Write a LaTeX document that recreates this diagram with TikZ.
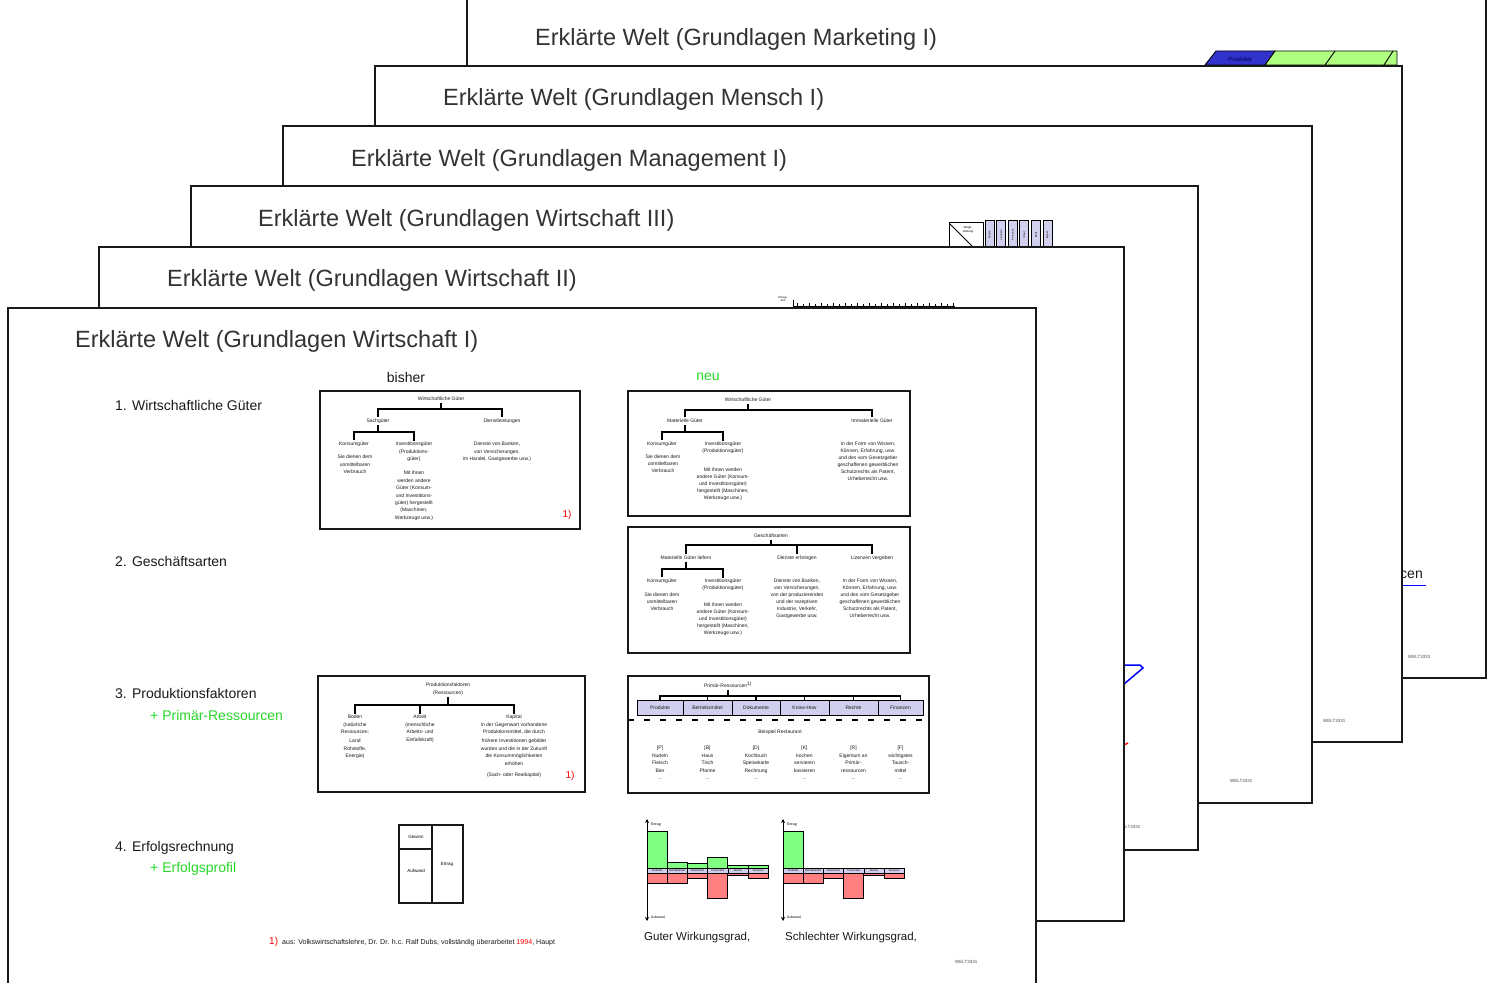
\documentclass[tikz,border=0pt]{standalone}
\usepackage{fontspec}
\setmainfont{Liberation Sans}
\usetikzlibrary{arrows.meta}

\definecolor{ink}{HTML}{1A1A1A}
\definecolor{neugreen}{RGB}{40,215,40}
\definecolor{barGreen}{RGB}{128,255,128}
\definecolor{barRed}{RGB}{255,128,128}
\definecolor{lav}{RGB}{208,208,238}
\definecolor{tabBlue}{RGB}{50,50,205}
\definecolor{tabGreen}{RGB}{176,255,128}

\tikzset{
  sheet/.style={draw=black!90, line width=1.4pt, fill=white},
  sheettitle/.style={anchor=west, inner sep=0, text=black!80, font=\fontsize{23.5}{28}\selectfont},
  sec/.style={anchor=west, inner sep=0, text=ink, font=\fontsize{14}{16}\selectfont},
  frame/.style={draw=black!90, line width=1.3pt},
  tree/.style={draw=black, line width=1.1pt},
  tl/.style={inner xsep=0, inner ysep=1.5pt, align=center, text=ink, font=\fontsize{5}{7.4}\selectfont},
  tlc/.style={tl, font=\fontsize{5}{7}\selectfont},
  fnref/.style={text=red, inner sep=0, font=\fontsize{10}{12}\selectfont},
  welt/.style={anchor=west, inner sep=0, text=black!70, font=\fontsize{4.5}{5}\selectfont},
  tab/.style={draw=black, line width=0.9pt, fill=lav, inner sep=0, minimum height=15pt, font=\fontsize{5}{6}\selectfont, text=ink},
  cell/.style={draw=black, line width=0.5pt, fill=lav, minimum width=20.2pt, minimum height=5pt, inner sep=0, font=\fontsize{2.6}{3}\selectfont},
  axis/.style={line width=0.9pt, {Stealth[length=4pt,width=4pt]}-{Stealth[length=4pt,width=4pt]}},
}

% org-chart fork: parent, left child, right child, y of the bar
\newcommand\fork[4]{%
  \draw[tree] (#1.south) -- (#1.south |- 0,#4);
  \draw[tree] (#2.north) |- (#3.north |- 0,#4) -- (#3.north);}
\newcommand\drop[2]{\draw[tree] (#1.north) -- (#1.north |- 0,#2);}

% profit profile: name prefix, x of the axis, cells (index/green top/red bottom/label)
\newcommand\erfprofil[3]{%
  \coordinate (#1top) at (#2,819);
  \coordinate (#1bot) at (#2,921);
  \draw[axis] (#1top) -- (#1bot);
  \node[anchor=west, inner sep=0, font=\fontsize{3.5}{4}\selectfont] (#1ert) at (#2+4,825) {Ertrag};
  \node[anchor=west, inner sep=0, font=\fontsize{3.5}{4}\selectfont] (#1auf) at (#2+4,917) {Aufwand};
  \foreach \i/\g/\r/\lab in {#3} {
    \draw[fill=barGreen, line width=0.8pt] (#2+\i*20.2, \g) rectangle (#2+\i*20.2+20.2, 868);
    \draw[fill=barRed, line width=0.8pt] (#2+\i*20.2, 873) rectangle (#2+\i*20.2+20.2, \r);
    \node[cell] (#1c\i) at (#2+\i*20.2+10.1, 870.5) {\lab};
  }}

\begin{document}
\begin{tikzpicture}[x=1pt,y=-1pt]
\useasboundingbox (0,0) rectangle (1487,982);

% ---------- sheet 6: Marketing ----------
\draw[sheet] (467,-3) rectangle (1486,678);
\node[sheettitle] (tMkt) at (535,39) {Erklärte Welt (Grundlagen Marketing I)};
\filldraw[fill=tabBlue, draw=black, line width=0.9pt] (1205,65) -- (1216,51) -- (1275,51) -- (1265,65) -- cycle;
\filldraw[fill=tabGreen, draw=black, line width=0.9pt] (1265,65) -- (1275,51) -- (1397,51) -- (1397,65) -- cycle;
\draw[line width=0.9pt] (1325,65) -- (1335,51) (1384,65) -- (1393,51);
\node[inner sep=0, text=black!70!blue, font=\itshape\fontsize{6}{7}\selectfont] (tabP) at (1240,59) {Produkte};
\node[anchor=east, inner sep=0, text=ink, font=\fontsize{14}{16}\selectfont] (mktHead) at (1423,573) {Primär-Ressourcen};
\draw[blue, line width=1pt] (1300,585) -- (1426,585);
\node[welt] (wMkt) at (1408,657) {WELT3331};

% ---------- sheet 5: Mensch ----------
\draw[sheet] (375,66) rectangle (1402,742);
\node[sheettitle] (tMen) at (443,99) {Erklärte Welt (Grundlagen Mensch I)};
\node[welt] (wMen) at (1323,721) {WELT3331};

% ---------- sheet 4: Management ----------
\draw[sheet] (283,126) rectangle (1312,803);
\node[sheettitle] (tMan) at (351,160) {Erklärte Welt (Grundlagen Management I)};
\node[welt] (wMan) at (1230,781) {WELT3331};

% ---------- sheet 3: Wirtschaft III ----------
\draw[sheet] (191,186) rectangle (1198,850);
\node[sheettitle] (tW3) at (258,220) {Erklärte Welt (Grundlagen Wirtschaft III)};
\draw[line width=0.9pt] (949,222) rectangle (983,250);
\draw[line width=0.9pt] (950,224) -- (976,250);
\node[inner sep=0, align=center, font=\fontsize{3}{3.5}\selectfont] (wege) at (968,230) {Wege-\\leistung};
\foreach \i/\w in {0/Kunde,1/Lieferant,2/Personal,3/Staat,4/Bank,5/Eigner} {
  \filldraw[fill=lav, draw=black, line width=0.8pt] (985+\i*11.6,220) rectangle (994+\i*11.6,250);
  \node[rotate=90, inner sep=0, font=\fontsize{2.6}{3}\selectfont] (col\i) at (989.5+\i*11.6,235) {\w};
}
\draw[blue, line width=1.5pt] (1100,665) -- (1140,665) -- (1143,668) -- (1124,684) -- (1110,696);
\draw[red, line width=1.5pt] (1110,752) -- (1128,743);
\node[welt] (wW3) at (1118,827) {WELT3331};

% ---------- sheet 2: Wirtschaft II ----------
\draw[sheet] (99,247) rectangle (1124,921);
\node[sheettitle] (tW2) at (167,280) {Erklärte Welt (Grundlagen Wirtschaft II)};
\node[inner sep=0, align=center, font=\fontsize{2.8}{3.2}\selectfont] (rulLab) at (783,299) {Ertrag-\\Zeit};
\draw[line width=1pt] (793,300) -- (793,306) -- (955,306);
\foreach \k in {0,...,26} {
  \pgfmathsetmacro\tk{mod(\k,2)==0 ? 3 : 2}
  \draw[line width=0.8pt] (797+\k*6,306) -- ++(0,-\tk);
}

% ---------- sheet 1: Wirtschaft I ----------
\draw[sheet] (8,308) rectangle (1036,995);
\node[sheettitle] (tW1) at (75,341) {Erklärte Welt (Grundlagen Wirtschaft I)};

\node[inner sep=0, text=ink, font=\fontsize{14}{16}\selectfont] (bisher) at (406,377) {bisher};
\node[inner sep=0, text=neugreen, font=\fontsize{14}{16}\selectfont] (neu) at (708,377) {neu};

\node[sec] (s1) at (115,405) {1. Wirtschaftliche Güter};
\node[sec] (s2) at (115,561) {2. Geschäftsarten};
\node[sec] (s3) at (115,693) {3. Produktionsfaktoren};
\node[sec, text=neugreen] (s3b) at (150,715) {+ Primär-Ressourcen};
\node[sec] (s4) at (115,848) {4. Erfolgsrechnung};
\node[sec, text=neugreen] (s4b) at (150,869) {+ Erfolgsprofil};

% --- economic goods, old version
\draw[frame] (320,391) rectangle (580,529);
\node[tl] (b0) at (441,399) {Wirtschaftliche Güter};
\node[tl] (b1) at (378,421) {Sachgüter};
\node[tl] (b2) at (502,421) {Dienstleistungen};
\fork{b0}{b1}{b2}{409}
\node[tl] (b11) at (354,444) {Konsumgüter};
\node[tl, anchor=north] (b12) at (414,440.5) {Investitionsgüter\\(Produktions-\\güter)};
\fork{b1}{b11}{b12}{432}
\node[tl, anchor=north] (b11d) at (355,453.5) {Sie dienen dem\\unmittelbaren\\Verbrauch};
\node[tl, anchor=north] (b12d) at (414,469.5) {Mit ihnen\\werden andere\\Güter (Konsum-\\und Investitions-\\güter) hergestellt\\(Maschinen,\\Werkzeuge usw.)};
\node[tl, anchor=north] (b2d) at (497,440.5) {Dienste von Banken,\\von Versicherungen,\\im Handel, Gastgewerbe usw.)};
\node[fnref] (r1a) at (567,515) {1)};

% --- economic goods, new version
\draw[frame] (628,391) rectangle (910,516);
\node[tl] (n0) at (748,400) {Wirtschaftliche Güter};
\node[tl] (n1) at (685,421) {Materielle Güter};
\node[tl] (n2) at (872,421) {Immaterielle Güter};
\fork{n0}{n1}{n2}{410}
\node[tl] (n11) at (662,444) {Konsumgüter};
\node[tlc, anchor=north] (n12) at (723,440.5) {Investitionsgüter\\(Produktionsgüter)};
\fork{n1}{n11}{n12}{432}
\node[tlc, anchor=north] (n11d) at (663,453.5) {Sie dienen dem\\unmittelbaren\\Verbrauch};
\node[tlc, anchor=north] (n12d) at (723,466) {Mit ihnen werden\\andere Güter (Konsum-\\und Investitionsgüter)\\hergestellt (Maschinen,\\Werkzeuge usw.)};
\node[tlc, anchor=north] (n2d) at (868,440.5) {In der Form von Wissen,\\Können, Erfahrung, usw.\\und des vom Gesetzgeber\\geschaffenen gewerblichen\\Schutzrechts als Patent,\\Urheberrecht usw.};

% --- kinds of business
\draw[frame] (628,527) rectangle (910,653);
\node[tl] (g0) at (771,536) {Geschäftsarten};
\node[tl] (g1) at (686,558) {Materielle Güter liefern};
\node[tl] (g2) at (797,558) {Dienste erbringen};
\node[tl] (g3) at (872,558) {Lizenzen vergeben};
\fork{g0}{g1}{g3}{545}
\drop{g2}{545}
\node[tl] (g11) at (662,581) {Konsumgüter};
\node[tlc, anchor=north] (g12) at (723,577.5) {Investitionsgüter\\(Produktionsgüter)};
\fork{g1}{g11}{g12}{569}
\node[tlc, anchor=north] (g11d) at (662,591.5) {Sie dienen dem\\unmittelbaren\\Verbrauch};
\node[tlc, anchor=north] (g12d) at (723,601.5) {Mit ihnen werden\\andere Güter (Konsum-\\und Investitionsgüter)\\hergestellt (Maschinen,\\Werkzeuge usw.)};
\node[tlc, anchor=north] (g2d) at (797,577.5) {Dienste von Banken,\\von Versicherungen,\\von der produzierenden\\und der rezeptiven\\Industrie, Verkehr,\\Gastgewerbe usw.};
\node[tlc, anchor=north] (g3d) at (870,577.5) {In der Form von Wissen,\\Können, Erfahrung, usw.\\und des vom Gesetzgeber\\geschaffenen gewerblichen\\Schutzrechts als Patent,\\Urheberrecht usw.};

% --- factors of production
\draw[frame] (318,676) rectangle (585,792);
\node[tl, anchor=north] (p0) at (448,681.5) {Produktionsfaktoren\\(Ressourcen)};
\node[tl, anchor=north] (p1) at (355,713.5) {Boden\\(natürliche\\Ressourcen:};
\node[tl, anchor=north] (p2) at (420,713.5) {Arbeit\\(menschliche\\Arbeits- und\\Einfallskraft)};
\node[tl, anchor=north] (p3) at (514,713.5) {Kapital\\in der Gegenwart vorhandene\\Produktionsmittel, die durch};
\fork{p0}{p1}{p3}{705}
\drop{p2}{705}
\node[tl, anchor=north] (p1b) at (355,737.5) {Land\\Rohstoffe,\\Energie)};
\node[tl, anchor=north] (p3b) at (514,737.5) {frühere Investitionen gebildet\\wurden und die in der Zukunft\\die Konsummöglichkeiten\\erhöhen};
\node[tl] (p3c) at (514,775) {(Sach- oder Realkapital)};
\node[fnref] (r1b) at (570,776) {1)};

% --- primary resources
\draw[frame] (628,676) rectangle (929,793);
\node[tl] (r0) at (728,685) {Primär-Ressourcen\textsuperscript{1)}};
\node[tab, minimum width=46pt] (t1) at (660,707.5) {Produkte};
\node[tab, minimum width=49pt] (t2) at (707.5,707.5) {Betriebsmittel};
\node[tab, minimum width=48pt] (t3) at (756,707.5) {Dokumente};
\node[tab, minimum width=49pt] (t4) at (804.5,707.5) {Know-How};
\node[tab, minimum width=49pt] (t5) at (853.5,707.5) {Rechte};
\node[tab, minimum width=45pt] (t6) at (900.5,707.5) {Finanzen};
\fork{r0}{t1}{t6}{696}
\drop{t2}{696}\drop{t3}{696}\drop{t4}{696}\drop{t5}{696}
\draw[line width=1.5pt, dash pattern=on 6pt off 10pt] (628,720) -- (929,720);
\node[tl] (bsp) at (780,732) {Beispiel Restaurant};
\node[tl, anchor=north] (e1) at (660,744.5) {[P]\\Nudeln\\Fleisch\\Bier\\...};
\node[tl, anchor=north] (e2) at (707.5,744.5) {[B]\\Haus\\Tisch\\Pfanne\\...};
\node[tl, anchor=north] (e3) at (756,744.5) {[D]\\Kochbuch\\Speisekarte\\Rechnung\\...};
\node[tl, anchor=north] (e4) at (804.5,744.5) {[K]\\kochen\\servieren\\kassieren\\...};
\node[tl, anchor=north] (e5) at (853.5,744.5) {[R]\\Eigentum an\\Primär-\\ressourcen\\...};
\node[tl, anchor=north] (e6) at (900.5,744.5) {[F]\\wichtigstes\\Tausch-\\mittel\\...};

% --- income statement
\draw[frame] (399,825) rectangle (463,903);
\draw[frame] (432,825) -- (432,903);
\draw[frame] (399,849) -- (432,849);
\node[inner sep=0, font=\fontsize{4.5}{5}\selectfont] (gew) at (416,837) {Gewinn};
\node[inner sep=0, font=\fontsize{4.5}{5}\selectfont] (aufw) at (416,871) {Aufwand};
\node[inner sep=0, font=\fontsize{4.5}{5}\selectfont] (ertr) at (447,864) {Ertrag};

% --- profit profiles
\erfprofil{pa}{647}{0/831/883/Produkte,1/862/883/Betriebsmittel,2/863/878/Dokumente,3/857/898/Know-How,4/865/875/Rechte,5/865/878/Finanzen}
\erfprofil{pb}{783}{0/831/883/Produkte,1/868/883/Betriebsmittel,2/868/878/Dokumente,3/868/898/Know-How,4/868/875/Rechte,5/868/878/Finanzen}
\node[anchor=west, inner sep=0, text=ink, font=\fontsize{11.5}{13}\selectfont] (capA) at (644,938) {Guter Wirkungsgrad,};
\node[anchor=west, inner sep=0, text=ink, font=\fontsize{11.5}{13}\selectfont] (capB) at (785,938) {Schlechter Wirkungsgrad,};

% --- footnote
\node[fnref, anchor=west] (fn1) at (269,942) {1)};
\node[anchor=west, inner sep=0, text=ink, font=\fontsize{7.1}{8}\selectfont] (fn) at (282,942.5) {aus: Volkswirtschaftslehre, Dr. Dr. h.c. Ralf Dubs, vollständig überarbeitet {\color{red}1994}, Haupt};
\node[welt] (wW1) at (955,962) {WELT3331};
\end{tikzpicture}
\end{document}
